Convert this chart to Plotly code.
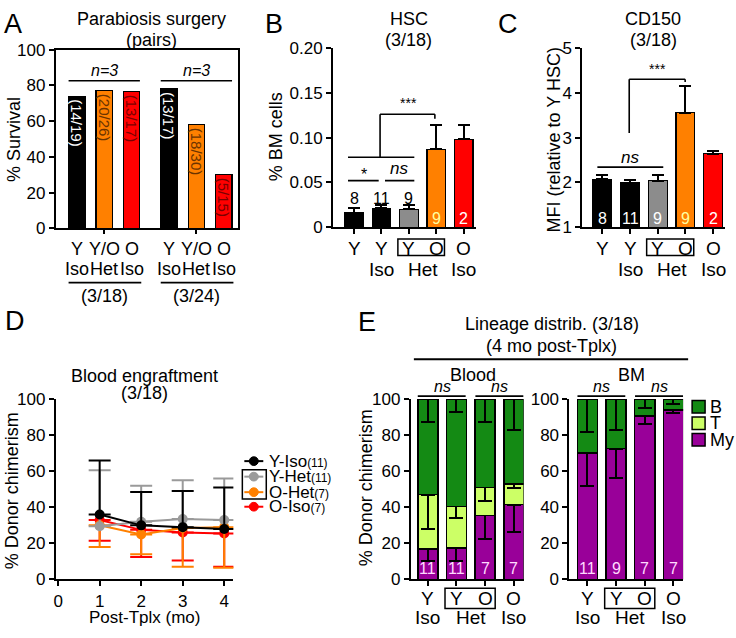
import plotly.graph_objects as go

W, H = 736, 638
FONT = "Liberation Sans, Arial, Helvetica, sans-serif"

# ---------------- DATA ----------------
# Panel A: parabiosis survival
a_top_labels = ["Y", "Y/O", "O", "Y", "Y/O", "O"]
a_bottom_labels = ["Iso", "Het", "Iso", "Iso", "Het", "Iso"]
a_group_labels = ["(3/18)", "(3/24)"]
a_survival = [74, 77, 76.5, 78, 58, 30]
a_counts = ["(14/19)", "(20/26)", "(13/17)", "(13/17)", "(18/30)", "(5/15)"]
a_colors = ["#000000", "#ff8000", "#ff0000", "#000000", "#ff8000", "#ff0000"]
a_text_colors = ["#ffffff", "#6b3300", "#7a0000", "#ffffff", "#6b3300", "#7a0000"]

# Panel B: HSC frequency
b_categories = ["Y", "Y Iso", "Y Het", "O Het", "O Iso"]
b_top_labels = ["Y", "Y", "Y", "O", "O"]
b_hsc = [0.016, 0.021, 0.020, 0.087, 0.098]
b_sem = [0.006, 0.004, 0.005, 0.027, 0.016]
b_n = ["8", "11", "9", "9", "2"]
bc_colors = ["#000000", "#000000", "#8c8c8c", "#ff8000", "#ff0000"]

# Panel C: CD150 MFI
c_cd150 = [2.07, 1.99, 2.04, 3.55, 2.64]
c_sem = [0.10, 0.07, 0.12, 0.59, 0.07]
c_n = ["8", "11", "9", "9", "2"]

# Panel D: blood engraftment
d_months = [1, 2, 3, 4]
d_names = ["Y-Iso", "Y-Het", "O-Het", "O-Iso"]
d_counts = ["(11)", "(11)", "(7)", "(7)"]
d_colors = ["#000000", "#9a9a9a", "#ff8000", "#ff0000"]
d_y_iso = [36, 30, 29, 28]
d_y_iso_sem = [30, 18.5, 20, 23]
d_y_het = [29.5, 32, 33.5, 33]
d_y_het_sem = [31, 20, 21.5, 23]
d_o_het = [30, 25, 28.5, 29]
d_o_het_sem = [12, 11, 21.5, 22.5]
d_o_iso = [33, 27.5, 26, 25.5]
d_o_iso_sem = [11.5, 15, 15.5, 18.5]

# Panel E: lineage distribution
e_categories = ["Y Iso", "Y Het", "O Het", "O Iso"]
e_top_labels = ["Y", "Y", "O", "O"]
e_lineages = ["B", "T", "My"]
e_lineage_colors = {"B": "#148a14", "T": "#ccff66", "My": "#990099"}
e_blood_my = [17, 17.5, 35.5, 41.5]
e_blood_my_sem = [7, 7.5, 13, 15]
e_blood_t = [30, 23, 15.5, 11.5]
e_blood_t_sem = [19, 6.5, 7.5, 2.5]
e_blood_b = [53, 59.5, 49, 47]
e_blood_b_sem = [13, 7, 13, 17]
e_bm_my = [70, 72.5, 90.5, 94]
e_bm_my_sem = [18, 16.5, 4.5, 2]
e_bm_t = [0, 0, 0, 0]
e_bm_b = [30, 27.5, 9.5, 6]
e_bm_b_sem = [18, 17, 5, 3]
e_blood_n = ["11", "11", "7", "7"]
e_bm_n = ["11", "9", "7", "7"]

# ---------------- helpers ----------------
def px(xp):
    return xp / W


def py(yp):
    return 1 - yp / H


def xdom(a, b):
    return [a / W, b / W]


def ydom(top, bottom):
    return [1 - bottom / H, 1 - top / H]


annotations = []
shapes = []


def ptext(t, xp, yp, size=18, color="black", xanchor="center", yanchor="middle", angle=0):
    annotations.append(dict(text=t, x=px(xp), y=py(yp), xref="paper", yref="paper",
                            showarrow=False, textangle=angle, xanchor=xanchor, yanchor=yanchor,
                            borderpad=0,
                            font=dict(size=size, color=color, family=FONT)))


def dtext(t, x, y, xref, yref, size=18, color="black", xanchor="center", yanchor="middle"):
    annotations.append(dict(text=t, x=x, y=y, xref=xref, yref=yref, showarrow=False,
                            xanchor=xanchor, yanchor=yanchor, borderpad=0,
                            font=dict(size=size, color=color, family=FONT)))


def line(x0, y0, x1, y1, xref, yref, width=1.6):
    shapes.append(dict(type="line", x0=x0, y0=y0, x1=x1, y1=y1, xref=xref, yref=yref,
                       line=dict(color="black", width=width)))


def rect(x0, y0, x1, y1, xref, yref, fill="rgba(0,0,0,0)", width=1.5):
    shapes.append(dict(type="rect", x0=x0, y0=y0, x1=x1, y1=y1, xref=xref, yref=yref,
                       fillcolor=fill, line=dict(color="black", width=width)))


fig = go.Figure()

# ---------------- Panel A ----------------
a_x = [i + (0.36 if i >= 3 else 0) for i in range(len(a_survival))]
fig.add_trace(go.Bar(x=a_x, y=a_survival, width=0.6, marker=dict(color=a_colors, line=dict(color="black", width=1.2)),
                     text=a_counts, textposition="inside", insidetextanchor="end", textangle=90,
                     constraintext="none", textfont=dict(size=15, color=a_text_colors, family=FONT),
                     xaxis="x", yaxis="y", showlegend=False, hoverinfo="skip"))
for i, xv in enumerate(a_x):
    dtext(a_top_labels[i], xv, py(247), "x", "paper", size=18)
    dtext(a_bottom_labels[i], xv, py(268), "x", "paper", size=18)
for g in range(2):
    xs = a_x[3 * g:3 * g + 3]
    line(xs[0] - 0.3, py(282), xs[2] + 0.35, py(282), "x", "paper", width=1.6)
    dtext(a_group_labels[g], xs[1], py(296), "x", "paper", size=18)
    line(xs[0] - 0.3, 82.6, xs[2] + 0.3, 82.6, "x", "y", width=1.6)
    dtext("<i>n=3</i>", xs[1], 88.5, "x", "y", size=16)
ptext("Parabiosis surgery", 150, 10)
ptext("(pairs)", 150, 32)
ptext("% Survival", 12, 134, angle=-90)
ptext("A", 11, 15, size=27)

# ---------------- Panel B ----------------
fig.add_trace(go.Bar(x=b_categories, y=b_hsc, width=0.68,
                     marker=dict(color=bc_colors, line=dict(color="black", width=1.2)),
                     error_y=dict(type="data", symmetric=False, array=b_sem, arrayminus=[0] * len(b_sem),
                                  color="black", thickness=2, width=6),
                     xaxis="x2", yaxis="y2", showlegend=False, hoverinfo="skip"))
for i, lab in enumerate(b_n):
    if i < 3:
        dtext(lab, i, 0.032, "x2", "y2", size=16)
    else:
        dtext(lab, i, 0.0095, "x2", "y2", size=16, color="#ffffa0" if i == 3 else "white")
line(-0.22, 0.052, 0.9, 0.052, "x2", "y2")
line(1.13, 0.052, 2.2, 0.052, "x2", "y2")
dtext("*", 0.35, 0.059, "x2", "y2", size=16)
dtext("<i>ns</i>", 1.65, 0.066, "x2", "y2", size=17)
line(-0.22, 0.078, 2.2, 0.078, "x2", "y2")
line(0.95, 0.078, 0.95, 0.126, "x2", "y2")
line(0.95, 0.126, 2.95, 0.126, "x2", "y2")
line(2.95, 0.126, 2.95, 0.121, "x2", "y2")
dtext("***", 2.0, 0.139, "x2", "y2", size=14)
ptext("HSC", 408, 10)
ptext("(3/18)", 408, 32)
ptext("% BM cells", 275, 132, angle=-90)
ptext("B", 273, 15, size=27)

# ---------------- Panel C ----------------
fig.add_trace(go.Bar(x=b_categories, y=c_cd150, width=0.68,
                     marker=dict(color=bc_colors, line=dict(color="black", width=1.2)),
                     error_y=dict(type="data", symmetric=False, array=c_sem, arrayminus=[0] * len(c_sem),
                                  color="black", thickness=2, width=6),
                     xaxis="x3", yaxis="y3", showlegend=False, hoverinfo="skip"))
for i, lab in enumerate(c_n):
    dtext(lab, i, 1.19, "x3", "y3", size=16, color="#ffffa0" if i == 3 else "white")
line(-0.18, 2.34, 2.2, 2.34, "x3", "y3")
dtext("<i>ns</i>", 1.0, 2.55, "x3", "y3", size=17)
line(0.97, 3.1, 0.97, 4.3, "x3", "y3")
line(0.97, 4.3, 2.99, 4.3, "x3", "y3")
line(2.99, 4.3, 2.99, 4.24, "x3", "y3")
dtext("***", 2.0, 4.53, "x3", "y3", size=14)
ptext("CD150", 653, 10)
ptext("(3/18)", 653, 32)
ptext("MFI (relative to Y HSC)", 553, 135, angle=-90)
ptext("C", 507, 15, size=27)

# x labels for B and C
for xa in ["x2", "x3"]:
    for i, lab in enumerate(b_top_labels):
        dtext(lab, i, py(247), xa, "paper", size=19)
    dtext("Iso", 1, py(268), xa, "paper", size=19)
    dtext("Het", 2.5, py(268), xa, "paper", size=19)
    dtext("Iso", 4, py(268), xa, "paper", size=19)
    rect(1.6, py(254), 3.3, py(237), xa, "paper")

# ---------------- Panel D ----------------
d_vals = [d_y_iso, d_y_het, d_o_het, d_o_iso]
d_sems = [d_y_iso_sem, d_y_het_sem, d_o_het_sem, d_o_iso_sem]
for k in [3, 2, 1, 0]:
    upper = k < 2
    zeros = [0] * len(d_months)
    fig.add_trace(go.Scatter(x=d_months, y=d_vals[k], mode="lines+markers",
                             line=dict(color=d_colors[k], width=2),
                             marker=dict(color=d_colors[k], size=10),
                             error_y=dict(type="data", symmetric=False,
                                          array=d_sems[k] if upper else zeros,
                                          arrayminus=zeros if upper else d_sems[k],
                                          color=d_colors[k], thickness=2, width=11),
                             xaxis="x4", yaxis="y4", showlegend=False, hoverinfo="skip"))
legend_y = [466, 482, 498, 513]
for k in range(4):
    yy = py(legend_y[k])
    shapes.append(dict(type="line", x0=px(243), x1=px(262), y0=yy, y1=yy, xref="paper", yref="paper",
                       line=dict(color=d_colors[k], width=2)))
    shapes.append(dict(type="circle", x0=px(248), x1=px(257), y0=py(legend_y[k] + 4.5), y1=py(legend_y[k] - 4.5),
                       xref="paper", yref="paper", fillcolor=d_colors[k], line=dict(color=d_colors[k], width=1)))
    ptext(d_names[k] + "<span style='font-size:12px'>" + d_counts[k] + "</span>", 267, legend_y[k], size=17,
          xanchor="left")
rect(px(241), py(505), px(265), py(475), "paper", "paper")
ptext("Blood engraftment", 143, 378)
ptext("(3/18)", 143, 396)
ptext("% Donor chimerism", 10, 496, angle=-90)
ptext("Post-Tplx (mo)", 143, 627, size=17)
ptext("D", 13, 322, size=27)

# ---------------- Panel E ----------------
e_blood = {"My": (e_blood_my, e_blood_my_sem), "T": (e_blood_t, e_blood_t_sem), "B": (e_blood_b, e_blood_b_sem)}
e_bm = {"My": (e_bm_my, e_bm_my_sem), "T": (e_bm_t, [0] * 4), "B": (e_bm_b, e_bm_b_sem)}
for data, xa, ya in [(e_blood, "x5", "y5"), (e_bm, "x6", "y6")]:
    for lin in ["My", "T", "B"]:
        vals, sems = data[lin]
        fig.add_trace(go.Bar(x=e_categories, y=vals, width=0.7, name=lin,
                             marker=dict(color=e_lineage_colors[lin], line=dict(color="black", width=1.5)),
                             error_y=dict(type="data", symmetric=False, array=[0] * 4, arrayminus=sems,
                                          color="black", thickness=2, width=7),
                             xaxis=xa, yaxis=ya, showlegend=False, hoverinfo="skip"))
for i in range(4):
    dtext(e_blood_n[i], i, 6, "x5", "y5", size=16, color="#ffd9ff")
    dtext(e_bm_n[i], i, 6, "x6", "y6", size=16, color="#ffd9ff")
for xa in ["x5", "x6"]:
    for i, lab in enumerate(e_top_labels):
        dtext(lab, i, py(608), xa, "paper", size=19)
    dtext("Iso", 0, py(627), xa, "paper", size=19)
    dtext("Het", 1.5, py(627), xa, "paper", size=19)
    dtext("Iso", 3, py(627), xa, "paper", size=19)
    rect(0.6, py(618), 2.35, py(597), xa, "paper")
    line(-0.35, py(399), 1.32, py(399), xa, "paper")
    line(1.66, py(399), 3.34, py(399), xa, "paper")
    dtext("<i>ns</i>", 0.5, py(389), xa, "paper", size=16)
    dtext("<i>ns</i>", 2.5, py(389), xa, "paper", size=16)
ptext("Blood", 472, 377)
ptext("BM", 631, 377)
ptext("Lineage distrib. (3/18)", 551, 325)
ptext("(4 mo post-Tplx)", 551, 347)
line(px(413), py(361), px(688), py(361), "paper", "paper", width=2)
ptext("% Donor chimerism", 365, 494, angle=-90)
ptext("E", 366, 323, size=27)
e_leg_y = [410, 427, 444]
for k, lin in enumerate(e_lineages):
    rect(px(692), py(e_leg_y[k] + 6.5), px(705), py(e_leg_y[k] - 6.5), "paper", "paper",
         fill=e_lineage_colors[lin], width=1.5)
    ptext(lin, 709, e_leg_y[k], size=18, xanchor="left")

# ---------------- axes ----------------
tickfont = dict(size=17, family=FONT, color="black")


def yax(domain, rng, tickvals, ticktext=None, anchor="x", mirror=False):
    d = dict(domain=domain, range=rng, tickvals=tickvals, showgrid=False, zeroline=False,
             showline=True, linecolor="black", linewidth=2, ticks="outside", ticklen=5, tickwidth=2,
             tickcolor="black", tickfont=tickfont, anchor=anchor, mirror=mirror, fixedrange=True)
    if ticktext is not None:
        d["ticktext"] = ticktext
    return d


def xax(domain, rng, tickvals, ticktext=None, anchor="y", mirror=False, typ="linear", ticklen=5):
    d = dict(domain=domain, range=rng, tickvals=tickvals, showgrid=False, zeroline=False, type=typ,
             showline=True, linecolor="black", linewidth=2, ticks="outside", ticklen=ticklen, tickwidth=2,
             tickcolor="black", tickfont=tickfont, anchor=anchor, mirror=mirror, fixedrange=True,
             showticklabels=ticktext is not None)
    if ticktext is not None:
        d["ticktext"] = ticktext
    return d


yrange_pct = [0, 100]
pct_ticks = [0, 20, 40, 60, 80, 100]

fig.update_layout(
    xaxis=xax(xdom(54, 237), [-0.764, 5.89], [a_x[1], a_x[4]], anchor="y", mirror=True, ticklen=4),
    yaxis=yax(ydom(42, 226), yrange_pct, pct_ticks, anchor="x", mirror=True),
    xaxis2=xax(xdom(332, 475), [-0.764, 4.44], list(range(5)), anchor="y2", typ="category", ticklen=5),
    yaxis2=yax(ydom(40, 225), [0, 0.20], [0, 0.05, 0.10, 0.15, 0.20], ["0", "0.05", "0.10", "0.15", "0.20"],
               anchor="x2"),
    xaxis3=xax(xdom(582, 725), [-0.72, 4.43], list(range(5)), anchor="y3", typ="category", ticklen=5),
    yaxis3=yax(ydom(40, 225), [1, 5], [1, 2, 3, 4, 5], anchor="x3"),
    xaxis4=xax(xdom(54, 232), [-0.055, 4.22], [0, 1, 2, 3, 4], ["0", "1", "2", "3", "4"], anchor="y4"),
    yaxis4=yax(ydom(402, 588), yrange_pct, pct_ticks, anchor="x4"),
    xaxis5=xax(xdom(410, 523), [-0.59, 3.34], list(range(4)), anchor="y5", typ="category"),
    yaxis5=yax(ydom(402, 588), yrange_pct, pct_ticks, anchor="x5"),
    xaxis6=xax(xdom(569, 683), [-0.63, 3.34], list(range(4)), anchor="y6", typ="category"),
    yaxis6=yax(ydom(402, 588), yrange_pct, pct_ticks, anchor="x6"),
    barmode="stack",
    width=W, height=H, autosize=False,
    margin=dict(l=0, r=0, t=0, b=0),
    plot_bgcolor="white", paper_bgcolor="white",
    font=dict(family=FONT, color="black"),
    showlegend=False, hovermode=False,
    annotations=annotations, shapes=shapes,
)

# remove the browser's default page margin so the 736x638 figure fills the window exactly
fig.write_html("out.html",
               config={"displayModeBar": False, "staticPlot": True},
               post_script="document.body.style.margin='0px';document.body.style.padding='0px';"
                           "document.body.style.overflow='hidden';")
